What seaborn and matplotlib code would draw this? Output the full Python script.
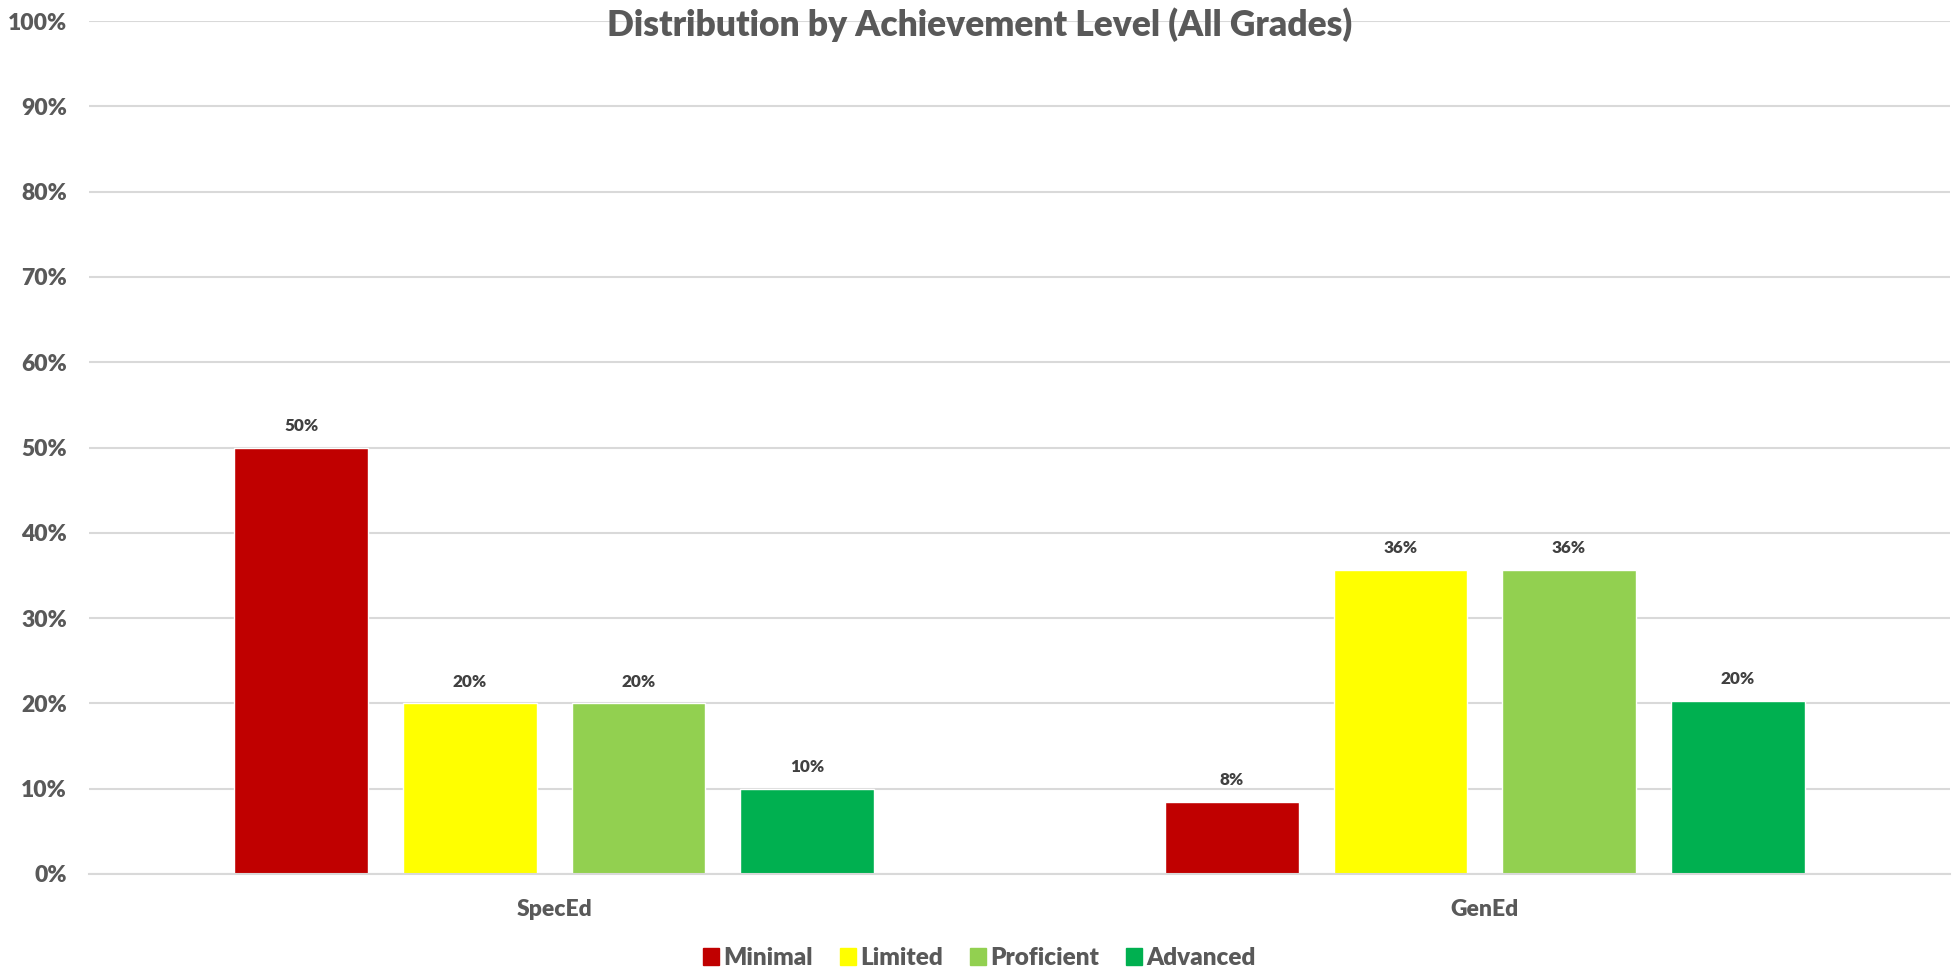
import matplotlib
matplotlib.use("Agg")
import matplotlib.pyplot as plt
import matplotlib.patches as mpatches
import pandas as pd
import seaborn as sns

# ---------------------------------------------------------------------------
# Data
# ---------------------------------------------------------------------------
GROUPS = ["SpecEd", "GenEd"]
LEVELS = ["Minimal", "Limited", "Proficient", "Advanced"]
SPECED = [0.50, 0.20, 0.20, 0.10]
GENED = [0.084, 0.356, 0.356, 0.203]
Y_TICKS = [0.0, 0.1, 0.2, 0.3, 0.4, 0.5, 0.6, 0.7, 0.8, 0.9, 1.0]

LEVEL_COLORS = {
    "Minimal": "#C00000",
    "Limited": "#FFFF00",
    "Proficient": "#92D050",
    "Advanced": "#00B050",
}
TEXT_GRAY = "#595959"
LABEL_GRAY = "#404040"
GRID_GRAY = "#D9D9D9"
WEIGHT = "heavy"

rows = []
for g, vals in zip(GROUPS, [SPECED, GENED]):
    for lvl, v in zip(LEVELS, vals):
        rows.append({"group": g, "level": lvl, "value": v})
df = pd.DataFrame(rows)

# ---------------------------------------------------------------------------
# Plot
# ---------------------------------------------------------------------------
sns.set_theme(style="white")
plt.rcParams["font.family"] = ["Lato", "DejaVu Sans"]

fig = plt.figure(figsize=(19.59, 9.74), dpi=100)
ax = fig.add_axes([89 / 1959, 1 - 874 / 974, (1950 - 89) / 1959, (874 - 21) / 974])

sns.barplot(
    data=df, x="group", y="value", hue="level",
    order=GROUPS, hue_order=LEVELS, palette=LEVEL_COLORS,
    width=0.725, gap=0.207, errorbar=None, saturation=1,
    legend=False, ax=ax,
)

for cont in ax.containers:
    ax.bar_label(cont, fmt=lambda v: f"{v:.0%}", padding=10,
                 fontsize=12.3, fontweight=WEIGHT, color=LABEL_GRAY)

ax.set_ylim(0, 1)
ax.set_xlim(-0.5, 1.5)
ax.set_yticks(Y_TICKS)
ax.set_yticklabels([f"{t:.0%}" for t in Y_TICKS])
ax.yaxis.grid(True, color=GRID_GRAY, linewidth=1.5)
ax.set_axisbelow(True)
ax.set_xlabel("")
ax.set_ylabel("")

for side in ["top", "right", "left"]:
    ax.spines[side].set_visible(False)
ax.spines["bottom"].set_color(GRID_GRAY)
ax.spines["bottom"].set_linewidth(1.5)

ax.tick_params(axis="y", length=0, pad=16, labelsize=16.5, labelcolor=TEXT_GRAY)
ax.tick_params(axis="x", length=0, pad=18, labelsize=16.5, labelcolor=TEXT_GRAY)
for lab in ax.get_xticklabels() + ax.get_yticklabels():
    lab.set_fontweight(WEIGHT)

fig.suptitle("Distribution by Achievement Level (All Grades)",
             x=0.5, y=1 - 25 / 974, va="center",
             fontsize=25.5, fontweight=WEIGHT, color=TEXT_GRAY)

handles = [mpatches.Patch(color=LEVEL_COLORS[l], label=l) for l in LEVELS]
leg = fig.legend(handles=handles, loc="center", bbox_to_anchor=(0.5, 16 / 974),
                 ncol=4, frameon=False, handlelength=0.65, handleheight=0.65,
                 handletextpad=0.2, columnspacing=1.1,
                 prop={"size": 17.5, "weight": WEIGHT})
for t in leg.get_texts():
    t.set_color(TEXT_GRAY)

fig.savefig("out.png", dpi=100)
